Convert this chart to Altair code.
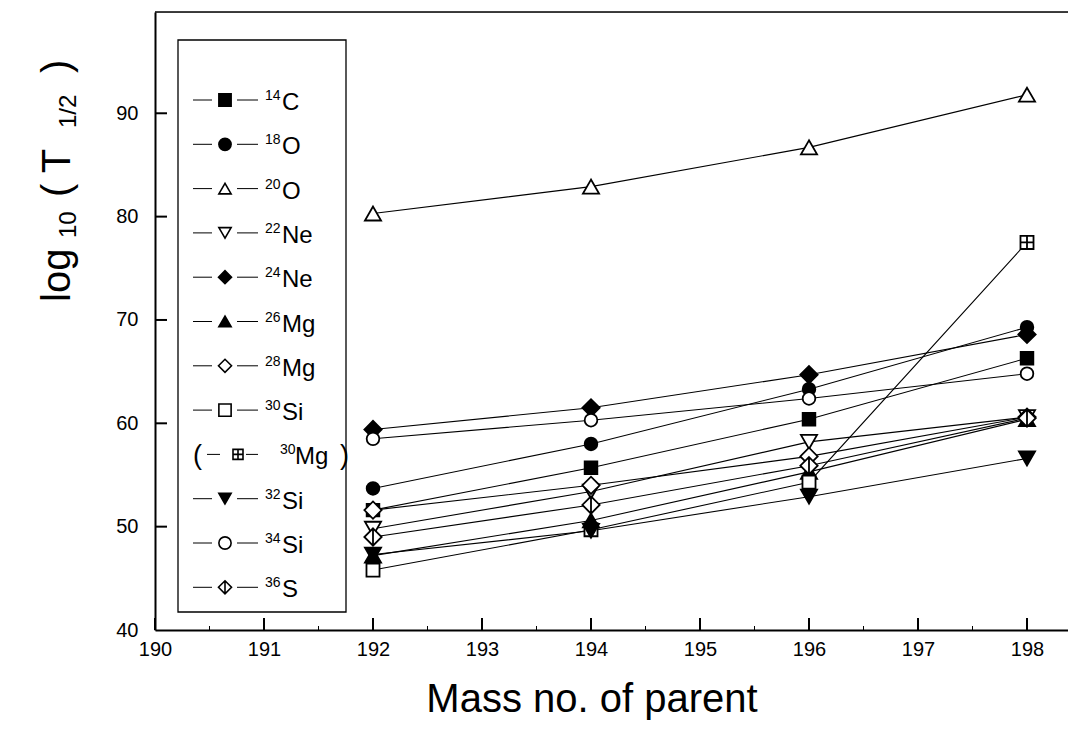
import altair as alt
import pandas as pd

# ---------------- data ----------------
masses = [192, 194, 196, 198]
c14 = [51.6, 55.7, 60.4, 66.3]
o18 = [53.7, 58.0, 63.3, 69.3]
o20 = [80.3, 82.9, 86.7, 91.8]
ne22 = [49.8, 53.4, 58.2, 60.6]
ne24 = [59.4, 61.5, 64.7, 68.6]
mg26 = [47.2, 50.6, 55.3, 60.4]
mg28 = [51.6, 54.0, 56.8, 60.6]
si30_masses = [192, 194, 196]
si30 = [45.8, 49.7, 54.3]
mg30_masses = [198]
mg30 = [77.5]
si32 = [47.3, 49.6, 52.9, 56.6]
si34 = [58.5, 60.3, 62.4, 64.8]
s36 = [49.0, 52.1, 55.9, 60.5]

x_ticks = [190, 191, 192, 193, 194, 195, 196, 197, 198]
x_minor = [190.5, 191.5, 192.5, 193.5, 194.5, 195.5, 196.5, 197.5]
y_ticks = [40, 50, 60, 70, 80, 90]

FONT = "Liberation Sans"
SQ_PLUS = "M-1,-1L1,-1L1,1L-1,1Z M0,-1L0,1 M-1,0L1,0"
DIA_LINE = "M0,-1L1,0L0,1L-1,0Z M0,-1L0,1"

# name, superscript, element, masses, values, shape, fill, size
series = [
    ("14C", "14", "C", masses, c14, "square", "black", 160),
    ("18O", "18", "O", masses, o18, "circle", "black", 160),
    ("20O", "20", "O", masses, o20, "triangle-up", "white", 260),
    ("22Ne", "22", "Ne", masses, ne22, "triangle-down", "white", 260),
    ("24Ne", "24", "Ne", masses, ne24, "diamond", "black", 300),
    ("26Mg", "26", "Mg", masses, mg26, "triangle-up", "black", 260),
    ("28Mg", "28", "Mg", masses, mg28, "diamond", "white", 300),
    ("30Si", "30", "Si", si30_masses, si30, "square", "white", 170),
    ("30Mg", "30", "Mg", mg30_masses, mg30, SQ_PLUS, "white", 170),
    ("32Si", "32", "Si", masses, si32, "triangle-down", "black", 260),
    ("34Si", "34", "Si", masses, si34, "circle", "white", 160),
    ("36S", "36", "S", masses, s36, DIA_LINE, "white", 300),
]

W, H = 913, 618
X_DOMAIN = [190, 190 + W / 109.0]
Y_DOMAIN = [40, 99.8]

xs = alt.Scale(domain=X_DOMAIN, nice=False, zero=False)
ys = alt.Scale(domain=Y_DOMAIN, nice=False, zero=False)


def X(field="mass"):
    return alt.X(f"{field}:Q", scale=xs,
                 axis=alt.Axis(values=x_ticks, format="d", ticks=False, grid=False,
                               labelPadding=9, labelFontSize=20, title=None,
                               labelFlush=False, labelOverlap=False,
                               domainWidth=2, domainColor="black", labelFont=FONT,
                               labelColor="black"))


def Y(field="val"):
    return alt.Y(f"{field}:Q", scale=ys,
                 axis=alt.Axis(values=y_ticks, format="d", ticks=False, grid=False,
                               labelPadding=17, labelFontSize=20, title=None,
                               labelFlush=False, labelOverlap=False,
                               domainWidth=2, domainColor="black", labelFont=FONT,
                               labelColor="black"))


layers = []

# data lines, series by series
for name, sup, main, ms, vs, shape, fill, size in series:
    if name == "30Mg":
        continue
    line_m = list(ms)
    line_v = list(vs)
    if name == "30Si":
        line_m = line_m + mg30_masses
        line_v = line_v + mg30
    dfl = pd.DataFrame({"mass": line_m, "val": line_v})
    layers.append(alt.Chart(dfl).mark_line(color="black", strokeWidth=1.1).encode(x=X(), y=Y()))

# markers
for name, sup, main, ms, vs, shape, fill, size in series:
    dfp = pd.DataFrame({"mass": ms, "val": vs})
    layers.append(
        alt.Chart(dfp).mark_point(shape=shape, fill=fill, stroke="black", strokeWidth=1.8,
                                  size=size, opacity=1, fillOpacity=1, filled=False)
        .encode(x=X(), y=Y())
    )

# inward ticks
tick_x = pd.DataFrame({"mass": x_ticks})
tick_xm = pd.DataFrame({"mass": x_minor})
tick_y = pd.DataFrame({"val": y_ticks[1:]})
layers.append(alt.Chart(tick_x).mark_rule(color="black", strokeWidth=2).encode(
    x=X(), y=alt.value(H), y2=alt.value(H - 12)))
layers.append(alt.Chart(tick_xm).mark_rule(color="black", strokeWidth=1).encode(
    x=X(), y=alt.value(H), y2=alt.value(H - 4)))
layers.append(alt.Chart(tick_y).mark_rule(color="black", strokeWidth=2).encode(
    y=Y(), x=alt.value(0), x2=alt.value(12)))

one = pd.DataFrame({"a": [0]})

# top frame line
layers.append(alt.Chart(one).mark_rule(color="black", strokeWidth=1.5).encode(
    x=alt.value(0), x2=alt.value(W), y=alt.value(0)))

# legend box
layers.append(alt.Chart(one).mark_rect(fill="white", stroke="black", strokeWidth=1.3).encode(
    x=alt.value(23), x2=alt.value(191), y=alt.value(28), y2=alt.value(600)))

ROW0, STEP = 88.0, 44.3
for i, (name, sup, main, ms, vs, shape, fill, size) in enumerate(series):
    ry = ROW0 + STEP * i
    if name == "30Mg":
        seg1, seg2, mx, sx, tx = (52, 65), (91, 103), 83, 125, 140
        layers.append(alt.Chart(one).mark_text(text="(", font=FONT, fontSize=27, align="left",
                                               baseline="alphabetic", color="black").encode(
            x=alt.value(38), y=alt.value(ry + 10)))
        layers.append(alt.Chart(one).mark_text(text=")", font=FONT, fontSize=27, align="left",
                                               baseline="alphabetic", color="black").encode(
            x=alt.value(185), y=alt.value(ry + 10)))
        lsize = 100
    else:
        seg1, seg2, mx, sx, tx = (38, 57), (82, 103), 70, 110, 127
        lsize = 170 if ("diamond" in shape or shape == DIA_LINE) else 150
    for a, b in (seg1, seg2):
        layers.append(alt.Chart(one).mark_rule(color="black", strokeWidth=1).encode(
            x=alt.value(a), x2=alt.value(b), y=alt.value(ry)))
    layers.append(alt.Chart(one).mark_point(shape=shape, fill=fill, stroke="black", strokeWidth=1.6,
                                            size=lsize, opacity=1, fillOpacity=1, filled=False).encode(
        x=alt.value(mx), y=alt.value(ry)))
    layers.append(alt.Chart(one).mark_text(text=sup, font=FONT, fontSize=14, align="left",
                                           baseline="alphabetic", color="black").encode(
        x=alt.value(sx), y=alt.value(ry + 0)))
    layers.append(alt.Chart(one).mark_text(text=main, font=FONT, fontSize=24, align="left",
                                           baseline="alphabetic", color="black").encode(
        x=alt.value(tx), y=alt.value(ry + 10)))

# axis titles
layers.append(alt.Chart(one).mark_text(text="Mass no. of parent", font=FONT, fontSize=40,
                                       align="center", baseline="alphabetic", color="black").encode(
    x=alt.value(437), y=alt.value(700)))

ytitle = [  # text, font size, baseline x (page), start y (page)
    ("log", 40, 70, 302),
    ("10", 24, 76, 238),
    ("( T", 40, 70, 197),
    ("1/2", 24, 76, 128),
    (")", 40, 70, 73),
]
for t, fs, bx, sy in ytitle:
    layers.append(alt.Chart(one).mark_text(text=t, font=FONT, fontSize=fs, angle=270,
                                           align="left", baseline="alphabetic", color="black").encode(
        x=alt.value(bx - 155), y=alt.value(sy - 12)))

chart = alt.layer(*layers).properties(
    width=W, height=H,
    autosize=alt.AutoSizeParams(type="none"),
    padding={"left": 147, "top": 4, "right": 0, "bottom": 100},
).configure_view(stroke="transparent").configure(background="white")

chart.save("out.html", embed_options={"renderer": "svg", "actions": False})
